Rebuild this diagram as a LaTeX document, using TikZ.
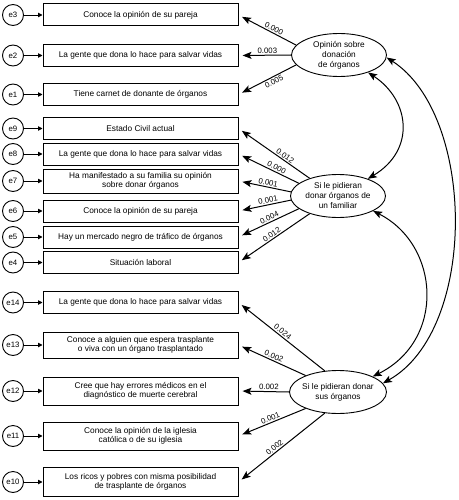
\documentclass[tikz,border=0pt]{standalone}
\usepackage{fontspec}
\setmainfont{Liberation Sans}
\usetikzlibrary{arrows.meta,positioning,shapes.geometric}

\begin{document}
\begin{tikzpicture}[x=1pt,y=-1pt,
  obs/.style={draw, line width=1pt, minimum width=195pt, minimum height=22pt,
              inner sep=1pt, align=center, font=\fontsize{8.3}{9.5}\selectfont},
  err/.style={draw, circle, line width=0.9pt, minimum size=21pt, inner sep=0pt,
              font=\fontsize{7.8}{9}\selectfont},
  lat/.style={draw, ellipse, line width=0.9pt, minimum width=95pt, minimum height=43pt,
              inner sep=0pt},
  load/.style={-{Stealth[length=9pt,width=7pt,inset=2pt]}, line width=1pt, shorten >=4pt},
  cov/.style={{Stealth[length=9pt,width=7pt,inset=2pt]}-{Stealth[length=9pt,width=7pt,inset=2pt]},
              line width=1pt},
  coef/.style={sloped, font=\fontsize{7.8}{8}\selectfont, inner sep=1.2pt},
  eps/.style={-{Triangle[length=4.5pt,width=4.5pt]}, line width=0.9pt}]
  \useasboundingbox (0,0) rectangle (458,500);

  % Observed variables
  \node[obs] (v3) at (140.5,15) {Conoce la opinión de su pareja};
  \node[obs] (v2) at (140.5,55.5) {La gente que dona lo hace para salvar vidas};
  \node[obs] (v1) at (140.5,94.5) {Tiene carnet de donante de órganos};
  \node[obs] (v9) at (140.5,128.5) {Estado Civil actual};
  \node[obs] (v8) at (140.5,154) {La gente que dona lo hace para salvar vidas};
  \node[obs, minimum height=24pt] (v7) at (140.5,181)
    {Ha manifestado a su familia su opinión\\sobre donar órganos};
  \node[obs] (v6) at (140.5,211) {Conoce la opinión de su pareja};
  \node[obs] (v5) at (140.5,237) {Hay un mercado negro de tráfico de órganos};
  \node[obs] (v4) at (140.5,262.5) {Situación laboral};
  \node[obs] (v14) at (140.5,302.5) {La gente que dona lo hace para salvar vidas};
  \node[obs, minimum height=26pt] (v13) at (140.5,345)
    {Conoce a alguien que espera trasplante\\o viva con un órgano trasplantado};
  \node[obs, minimum height=28pt] (v12) at (140.5,391)
    {Cree que hay errores médicos en el\\diagnóstico de muerte cerebral};
  \node[obs, minimum height=28pt] (v11) at (140.5,436)
    {Conoce la opinión de la iglesia\\católica o de su iglesia};
  \node[obs, minimum height=29pt] (v10) at (140.5,482)
    {Los ricos y pobres con misma posibilidad\\de trasplante de órganos};

  % Error terms
  \foreach \i/\y in {3/15, 2/55.5, 1/94.5, 9/128.5, 8/154, 7/181, 6/211, 5/237,
                     4/262.5, 14/302.5, 13/345, 12/391, 11/436, 10/482} {
    \node[err] (e\i) at (13,\y) {e\i};
    \draw[eps] (e\i) -- (v\i);
  }

  % Latent factors
  \node[lat, label={[align=center, font=\fontsize{8.3}{10}\selectfont]center:Opinión sobre\\donación\\de órganos}]
    (op) at (339,55) {};
  \node[lat, label={[align=center, font=\fontsize{8.3}{10}\selectfont]center:Si le pidieran\\donar órganos de\\un familiar}]
    (fam) at (338,196) {};
  \node[lat, minimum width=97pt, label={[align=center, font=\fontsize{8.3}{10}\selectfont]center:Si le pidieran donar\\sus órganos}]
    (sus) at (338,392) {};

  % Loadings
  \draw[load] (op.167) -- node[coef, above, pos=0.42] {0.000} (v3.east);
  \draw[load] (op.180) -- node[coef, above, pos=0.45] {0.003} (v2.east);
  \draw[load] (op.193) -- node[coef, below, pos=0.42] {0.005} (v1.east);

  \draw[load] (fam.148) -- node[coef, above, pos=0.38] {0.012} (v9.east);
  \draw[load] (fam.162) -- node[coef, above, pos=0.40] {0.000} (v8.east);
  \draw[load] (fam.175) -- node[coef, above, pos=0.45] {0.001} (v7.east);
  \draw[load] (fam.185) -- node[coef, above, pos=0.42] {0.001} (v6.east);
  \draw[load] (fam.198) -- node[coef, above, pos=0.46] {0.004} (v5.east);
  \draw[load] (fam.212) -- node[coef, above, pos=0.50] {0.012} (v4.east);

  \draw[load] (sus.122) -- node[coef, above, pos=0.52] {0.024} (v14.east);
  \draw[load] (sus.153) -- node[coef, above, pos=0.50] {0.002} (v13.east);
  \draw[load] (sus.180) -- node[coef, above, pos=0.40] {0.002} (v12.east);
  \draw[load] (sus.207) -- node[coef, above, pos=0.50] {0.001} (v11.east);
  \draw[load] (sus.238) -- node[coef, above, pos=0.55] {0.002} (v10.east);

  % Covariances
  \draw[cov] (op.-31) .. controls (410,100) and (416,150) .. (fam.30);
  \draw[cov] (fam.-23) .. controls (440,245) and (446,340) .. (sus.24);
  \draw[cov] (op.-3) .. controls (476,115) and (478,330) .. (sus.11);
\end{tikzpicture}
\end{document}
